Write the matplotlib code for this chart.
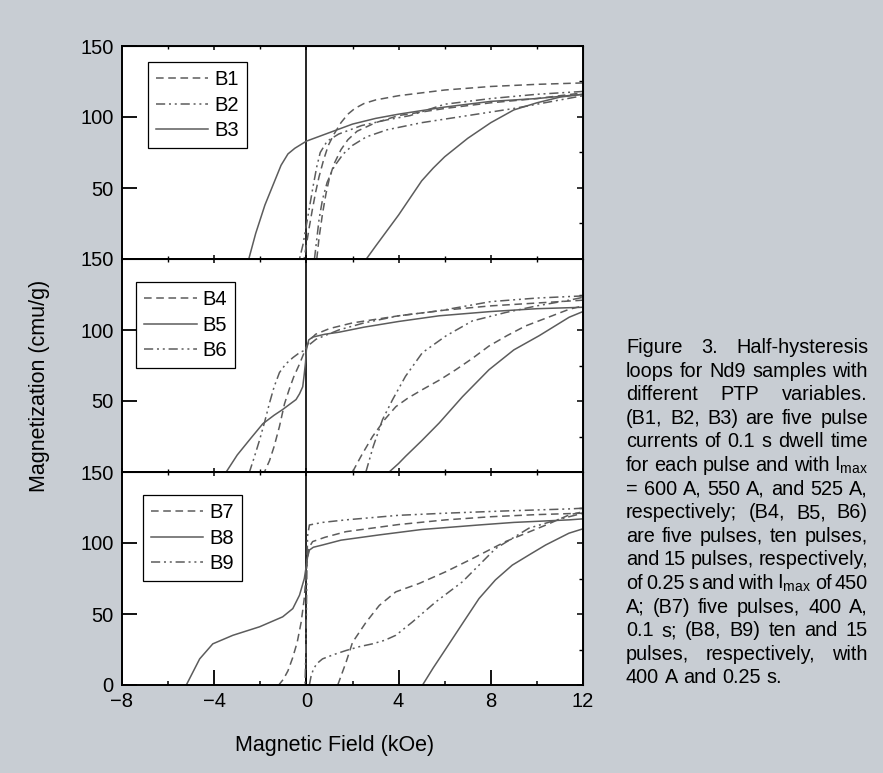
import matplotlib
matplotlib.use('Agg')
import matplotlib.pyplot as plt
from matplotlib.ticker import MultipleLocator, FixedLocator

plt.rcParams['font.family'] = ['Liberation Sans', 'DejaVu Sans']
plt.rcParams['mathtext.fontset'] = 'custom'
plt.rcParams['mathtext.rm'] = 'Liberation Sans'
plt.rcParams['mathtext.it'] = 'Liberation Sans:italic'
plt.rcParams['mathtext.bf'] = 'Liberation Sans:bold'

# ---- data (field in kOe, magnetization in emu/g) ----
# each sample: upper (descending field) branch and lower (ascending) branch
b1_up_x = [12, 10, 8, 6, 4, 3, 2.5, 2.1, 1.8, 1.5, 1.2, 0.95, 0.75, 0.55, 0.4, 0.25, 0.12, 0.0, -0.1]
b1_up_y = [124, 123, 121.5, 119, 115, 112, 109.5, 106, 102, 96, 88, 80, 70, 58, 47, 34, 22, 10, 0]
b1_lo_x = [0.45, 0.55, 0.7, 0.85, 1.0, 1.2, 1.5, 1.8, 2.2, 3, 4, 6, 8, 10, 12]
b1_lo_y = [0, 15, 32, 46, 57, 67, 77, 84, 90, 96, 101, 106, 110, 113, 117]

b2_up_x = [12, 10, 8, 6, 4.5, 3.5, 2.4, 1.4, 0.9, 0.6, 0.45, 0.3, 0.15, 0.0, -0.15, -0.3]
b2_up_y = [118, 116, 113, 109, 101, 98, 94, 88, 83, 75, 65, 52, 38, 24, 10, 0]
b2_lo_x = [0.35, 0.45, 0.55, 0.7, 0.9, 1.2, 1.6, 2.0, 2.6, 3.5, 5, 7, 9, 12]
b2_lo_y = [0, 14, 28, 42, 54, 65, 74, 80, 86, 91, 96, 101, 106, 115]

b3_up_x = [12, 10, 8, 6, 4, 3, 2, 1, 0.5, 0, -0.5, -0.8, -1.1, -1.4, -1.8, -2.2, -2.5]
b3_up_y = [116, 113, 111, 107, 102, 99, 95, 89, 86, 83, 78, 74, 66, 54, 38, 18, 0]
b3_lo_x = [2.6, 3.0, 3.5, 4.0, 4.5, 5.0, 5.5, 6, 7, 8, 9, 10, 11, 12]
b3_lo_y = [0, 9, 20, 31, 43, 55, 64, 72, 85, 96, 105, 110, 114, 116]

b4_up_x = [12, 10, 8, 6, 4, 2, 1, 0.4, 0.15, 0.0, -0.1, -0.3, -0.55, -0.75, -0.95, -1.17, -1.4, -1.6, -1.82]
b4_up_y = [121, 119, 117, 114, 110, 105, 101, 97, 93, 88, 84, 76, 67, 58, 48, 32, 18, 8, 0]
b4_lo_x = [2.0, 2.4, 2.87, 3.4, 3.88, 4.4, 5.03, 5.8, 6.48, 7.2, 7.92, 8.7, 9.5, 10.5, 11.4, 12]
b4_lo_y = [0, 12, 25, 37, 46, 52, 58, 65, 72, 80, 88.7, 96, 102.8, 109, 114.6, 117]

b5_up_x = [12, 10, 8, 5.76, 4, 2.5, 1.43, 0.8, 0.27, 0.1, 0.0, -0.04, -0.1, -0.16, -0.3, -0.45,
           -0.7, -1.03, -1.4, -1.89, -2.4, -3.0, -3.48]
b5_up_y = [116, 115, 113, 110, 106, 102, 98.5, 97, 95, 93, 86, 77, 68, 60, 55, 51,
           48, 44, 40, 34, 24, 12, 0]
b5_lo_x = [3.59, 4.0, 4.3, 5.0, 5.76, 6.77, 7.92, 9.0, 10.1, 11.4, 12]
b5_lo_y = [0, 6, 11, 22, 34.5, 53, 72, 86, 96, 109, 113]

b6_up_x = [12, 10, 8, 5.76, 4, 2.5, 1.4, 0.42, 0.0, -0.04, -0.3, -0.59, -0.9, -1.17, -1.4, -1.6,
           -1.8, -2.03, -2.25, -2.47]
b6_up_y = [124, 122.5, 120, 113.5, 110, 105, 100, 93.5, 88, 86, 84, 80.5, 76, 70, 60, 48.6,
           36, 22.6, 11, 0]
b6_lo_x = [2.58, 2.9, 3.3, 3.74, 4.3, 5.03, 6.05, 7.2, 8.64, 10, 11.4, 12]
b6_lo_y = [0, 18, 36.8, 51, 67.4, 84, 95.8, 106.4, 112.3, 117, 121, 123]

b7_up_x = [12, 10, 8, 6.05, 4, 1.72, 0.8, 0.27, 0.12, 0.05, 0.0, -0.1, -0.23, -0.4, -0.6, -0.8, -1.0, -1.2]
b7_up_y = [121, 120, 118.5, 116.3, 113, 108, 104, 101, 97, 90, 80, 60, 44, 30, 19, 10, 4, 0]
b7_lo_x = [1.36, 1.72, 2.0, 2.58, 3.16, 3.88, 4.89, 6.05, 7.2, 8.64, 10.4, 11.4, 12]
b7_lo_y = [0, 16, 30, 44, 56, 65.6, 71.5, 79.8, 89, 101, 112.7, 119.8, 122]

b8_up_x = [12, 11.4, 9, 7.49, 5, 3.16, 1.5, 0.7, 0.3, 0.13, 0.05, 0.0, -0.09, -0.3, -0.59, -1.03,
           -2.03, -3.19, -4.06, -4.63, -5.21]
b8_up_y = [117, 116.3, 114.5, 112.7, 109.5, 105.7, 102, 98.6, 97, 95, 90, 84.4, 75, 63.2, 53.8, 48,
           41, 35, 29, 18.4, 0]
b8_lo_x = [5.04, 5.5, 6.05, 6.8, 7.49, 8.2, 8.93, 9.7, 10.38, 11.39, 12]
b8_lo_y = [0, 12, 25.5, 44, 60.9, 74, 84.4, 92, 98.6, 106.9, 110]

b9_up_x = [12, 11.4, 8.5, 6.05, 4, 1.72, 0.7, 0.13, 0.05, 0.02, 0.0, -0.03, -0.06]
b9_up_y = [124.5, 124, 122.5, 121, 119.5, 116.3, 114.5, 112.7, 105, 80, 50, 20, 0]
b9_lo_x = [0.13, 0.2, 0.3, 0.45, 0.7, 1.2, 1.72, 2.3, 2.87, 3.4, 3.88, 4.6, 5.61, 6.77, 8.2, 9.65, 10.8, 12]
b9_lo_y = [0, 6, 11, 15, 18.4, 21.5, 24.3, 27, 29, 31.5, 35, 44.4, 58.5, 72.7, 96, 110.4, 116, 121]

panels = [
    [('B1', 'dash', b1_up_x, b1_up_y, b1_lo_x, b1_lo_y),
     ('B2', 'dashdotdot', b2_up_x, b2_up_y, b2_lo_x, b2_lo_y),
     ('B3', 'solid', b3_up_x, b3_up_y, b3_lo_x, b3_lo_y)],
    [('B4', 'dash', b4_up_x, b4_up_y, b4_lo_x, b4_lo_y),
     ('B5', 'solid', b5_up_x, b5_up_y, b5_lo_x, b5_lo_y),
     ('B6', 'dashdotdot', b6_up_x, b6_up_y, b6_lo_x, b6_lo_y)],
    [('B7', 'dash', b7_up_x, b7_up_y, b7_lo_x, b7_lo_y),
     ('B8', 'solid', b8_up_x, b8_up_y, b8_lo_x, b8_lo_y),
     ('B9', 'dashdotdot', b9_up_x, b9_up_y, b9_lo_x, b9_lo_y)],
]

caption_lines = [
    'Figure 3. Half-hysteresis',
    'loops for Nd9 samples with',
    'different PTP variables.',
    '(B1, B2, B3) are five pulse',
    'currents of 0.1 s dwell time',
    r'for each pulse and with I$_{\mathrm{max}}$',
    '= 600 A, 550 A, and 525 A,',
    'respectively; (B4, B5, B6)',
    'are five pulses, ten pulses,',
    'and 15 pulses, respectively,',
    r'of 0.25 s and with I$_{\mathrm{max}}$ of 450',
    'A; (B7) five pulses, 400 A,',
    '0.1 s; (B8, B9) ten and 15',
    'pulses, respectively, with',
    '400 A and 0.25 s.',
]

styles = {
    'solid': '-',
    'dash': (0, (5, 3)),
    'dashdotdot': (0, (6, 2.5, 1.3, 2.5, 1.3, 2.5)),
}
line_color = '#5c5c5c'
bg = '#c8cdd3'

W, H = 883, 773
fig = plt.figure(figsize=(W / 100, H / 100), dpi=100, facecolor=bg)

# panel edges in pixels
x_left, x_right = 122, 583
edges = [46, 259, 472, 685]
legend_anchor = [(0.056, 0.925), (0.031, 0.892), (0.045, 0.892)]

for i, panel in enumerate(panels):
    ax = fig.add_axes([x_left / W, 1 - edges[i + 1] / H,
                       (x_right - x_left) / W, (edges[i + 1] - edges[i]) / H])
    ax.set_facecolor('white')
    ax.set_xlim(-8, 12)
    ax.set_ylim(0, 150)
    ax.axvline(0, color='black', lw=1.2, zorder=1)

    for name, st, ux, uy, lx, ly in panel:
        ax.plot(ux, uy, color=line_color, lw=1.1, linestyle=styles[st], label=name)
        ax.plot(lx, ly, color=line_color, lw=1.1, linestyle=styles[st])

    for sp in ax.spines.values():
        sp.set_linewidth(1.4)

    # x ticks
    ax.xaxis.set_major_locator(MultipleLocator(4))
    ax.xaxis.set_minor_locator(MultipleLocator(2))
    if i == 2:
        ax.tick_params(axis='x', which='major', direction='in', length=11, width=1.3,
                       labelsize=14.5, pad=5)
        ax.tick_params(axis='x', which='minor', direction='in', length=3, width=1.1)
        ax.set_xticks([-8, -4, 0, 4, 8, 12])
        ax.set_xticklabels(['\u22128', '\u22124', '0', '4', '8', '12'])
    else:
        ax.tick_params(axis='x', which='major', direction='in', length=3, width=1.1,
                       labelbottom=False)
        ax.tick_params(axis='x', which='minor', direction='in', length=2, width=1.0)
    top = ax.secondary_xaxis('top')
    top.xaxis.set_major_locator(MultipleLocator(4))
    top.xaxis.set_minor_locator(MultipleLocator(2))
    top.tick_params(which='major', direction='in', length=3, width=1.1, labeltop=False)
    top.tick_params(which='minor', direction='in', length=2, width=1.0)

    # y ticks: long on the left, short on the right
    yt = [0, 50, 100, 150] if i == 2 else [50, 100, 150]
    ax.yaxis.set_major_locator(FixedLocator(yt))
    ax.tick_params(axis='y', which='major', direction='in', length=11, width=1.3,
                   labelsize=14.5, pad=6)
    ax.tick_params(axis='y', which='minor', left=False)
    rgt = ax.secondary_yaxis('right')
    rgt.yaxis.set_major_locator(MultipleLocator(50))
    rgt.yaxis.set_minor_locator(MultipleLocator(25))
    rgt.tick_params(which='major', direction='in', length=4, width=1.1, labelright=False)
    rgt.tick_params(which='minor', direction='in', length=3, width=1.0)

    leg = ax.legend(loc='upper left', bbox_to_anchor=legend_anchor[i], borderaxespad=0,
                    fontsize=14.5, handlelength=2.6, handletextpad=0.3, labelspacing=0.33,
                    borderpad=0.4, fancybox=False, framealpha=1, edgecolor='black')
    leg.get_frame().set_linewidth(0.9)

fig.text(335 / W, 1 - 745 / H, 'Magnetic Field (kOe)', fontsize=15.5, ha='center', va='center')
fig.text(40 / W, 1 - 386 / H, 'Magnetization (cmu/g)', fontsize=15.5, rotation=90,
         ha='center', va='center')

# justified caption on the right
cap_x0, cap_x1 = 626, 868
cap_y0, cap_dy = 353, 23.6
cap_fs = 14.3
renderer = fig.canvas.get_renderer()
for i, line in enumerate(caption_lines):
    words = line.split(' ')
    y = 1 - (cap_y0 + i * cap_dy) / H
    texts = [fig.text(0, y, w, fontsize=cap_fs, va='baseline', ha='left') for w in words]
    widths = [t.get_window_extent(renderer).width for t in texts]
    if i == len(caption_lines) - 1:
        gap = cap_fs * 100 / 72 * 0.278
    else:
        gap = max(3.0, (cap_x1 - cap_x0 - sum(widths)) / (len(words) - 1))
    x = cap_x0
    for t, w in zip(texts, widths):
        t.set_x(x / W)
        x += w + gap

fig.savefig('out.png', dpi=100, facecolor=bg)
